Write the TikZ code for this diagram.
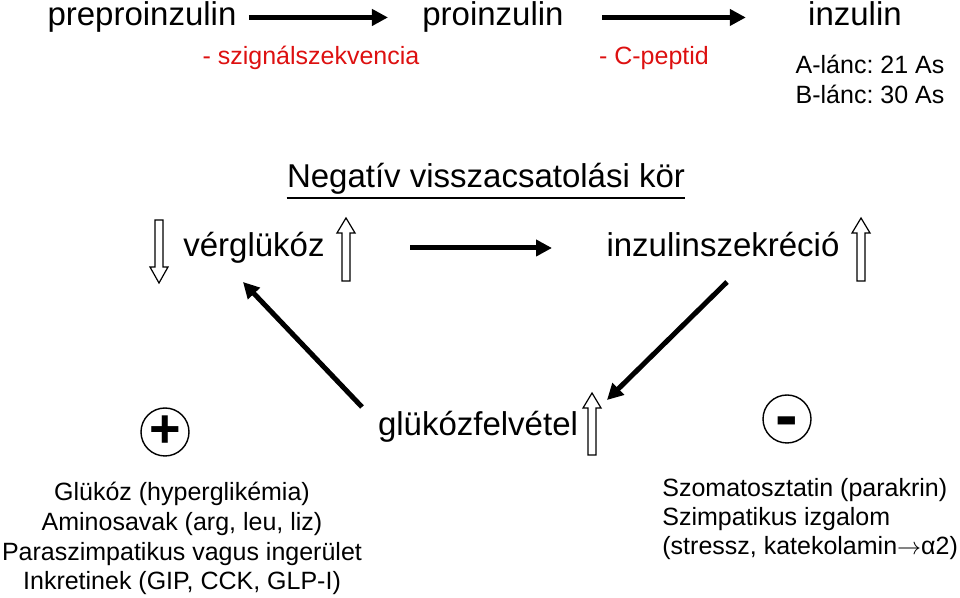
\documentclass[tikz,border=0pt]{standalone}
\usepackage{fontspec}
\setmainfont{Liberation Sans}
\usetikzlibrary{arrows.meta, positioning}

% hollow block arrow: x, tail y, neck y, tip y (pixel units)
\newcommand{\hollowarrow}[4]{%
  \draw[line width=0.6pt, fill=white] (#1-4,#2) -- (#1-4,#3) -- (#1-9,#3) -- (#1,#4)
    -- (#1+9,#3) -- (#1+4,#3) -- (#1+4,#2) -- cycle;}

\begin{document}
\frenchspacing
\begin{tikzpicture}[x=0.5pt, y=-0.5pt, inner sep=0pt, font=\fontsize{16.5}{20}\selectfont]
  \definecolor{cutred}{HTML}{DD1010}
  \tikzset{
    bigarrow/.style={line width=2.5pt, -{Triangle[length=8pt, width=8pt]}},
    small/.style={font=\fontsize{12.5}{15}\selectfont},
    cut/.style={small, text=cutred},
    sign/.style={circle, draw, line width=0.7pt, minimum size=24pt, font=\bfseries},
  }
  \useasboundingbox (0,0) rectangle (960,598);

  % synthesis chain
  \node[anchor=base] (prepro) at (142,26) {preproinzulin};
  \node[anchor=base] (pro) at (493,26) {proinzulin};
  \node[anchor=base] (ins) at (855,26) {inzulin};
  \draw[bigarrow, shorten <=6pt] (prepro.east) -- ([xshift=-17pt]prepro.east -| pro.west);
  \draw[bigarrow, shorten <=19pt] (pro.east) -- ([xshift=-31pt]pro.east -| ins.west);

  \node[cut, anchor=base] (signal) at (311,65) {- szignálszekvencia};
  \node[cut, anchor=base] (cpep) at (654,65) {- C-peptid};
  \node[small, anchor=base] (achain) at (870,74) {A-lánc: 21 As};
  \node[small, anchor=base] (bchain) at (870,104) {B-lánc: 30 As};

  % feedback loop
  \node[anchor=base] (title) at (486,188) {Negatív visszacsatolási kör};
  \draw[line width=1pt] ([yshift=-1.5pt]title.south west) -- ([yshift=-1.5pt]title.south east);

  \node[anchor=base] (gluc) at (254,257) {vérglükóz};
  \node[anchor=base] (secr) at (723,257) {inzulinszekréció};
  \node[anchor=base] (uptake) at (478,436) {glükózfelvétel};
  \draw[bigarrow] (410,248) coordinate (m1) -- (552,248) coordinate (m2);

  \coordinate (r1) at (727,282);
  \coordinate (r2) at (607,400);
  \coordinate (l1) at (362,407);
  \coordinate (l2) at (243,282);
  \draw[bigarrow] (r1) -- (r2);
  \draw[bigarrow] (l1) -- (l2);

  \hollowarrow{159}{220}{267}{283}
  \hollowarrow{346}{281}{233}{218}
  \hollowarrow{861}{281}{233}{218}
  \hollowarrow{592}{455}{408}{393}

  % stimulators and inhibitors
  \node[sign, font=\fontsize{27}{27}\bfseries] (plus) at (165,432) {+};
  \node[sign] (minus) at (787,419) {};
  \node[font=\fontsize{34}{34}\bfseries, yshift=-4.5pt] (minusbar) at (minus) {-};

  \node[small, anchor=base] (stim1) at (182,501) {Glükóz (hyperglikémia)};
  \node[small, anchor=base] (stim2) at (182,531) {Aminosavak (arg, leu, liz)};
  \node[small, anchor=base] (stim3) at (182,561) {Paraszimpatikus vagus ingerület};
  \node[small, anchor=base] (stim4) at (182,590) {Inkretinek (GIP, CCK, GLP-I)};

  \node[small, anchor=base west] (inh1) at (662,497) {Szomatosztatin (parakrin)};
  \node[small, anchor=base west] (inh2) at (662,526) {Szimpatikus izgalom};
  \node[small, anchor=base west] (inh3) at (662,555) {(stressz, katekolamin$\rightarrow$α2)};
\end{tikzpicture}
\end{document}
